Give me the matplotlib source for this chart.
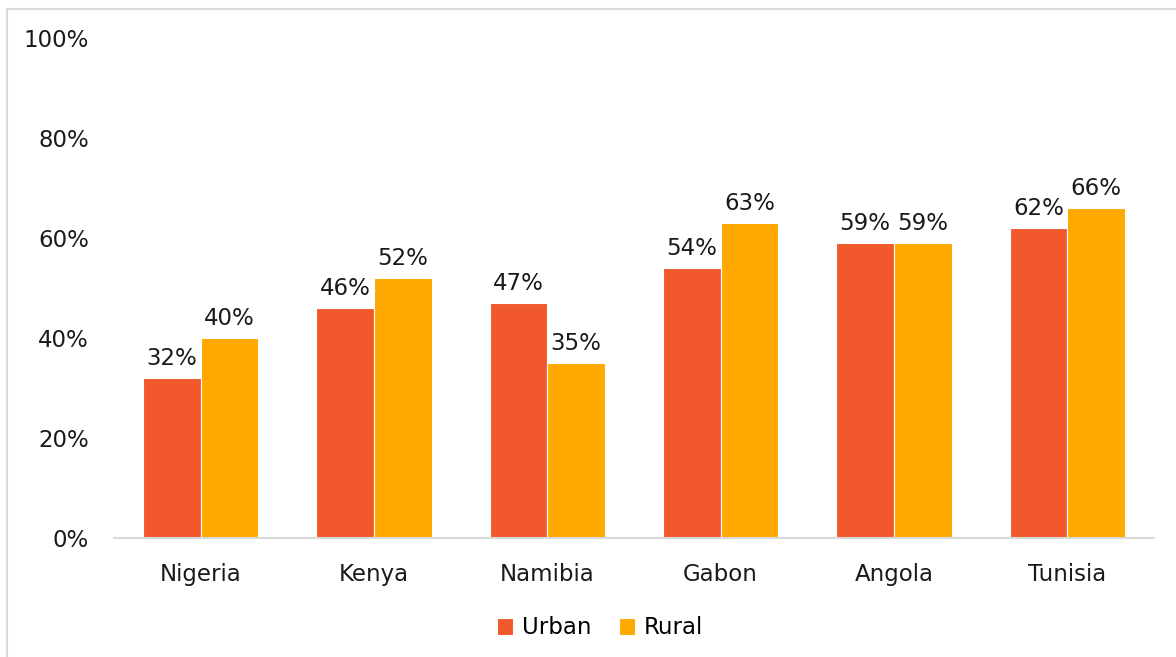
import matplotlib.pyplot as plt
import numpy as np
from matplotlib.patches import Rectangle

plt.rcParams['font.family'] = ['DejaVu Sans']

countries = ['Nigeria', 'Kenya', 'Namibia', 'Gabon', 'Angola', 'Tunisia']
urban = [32, 46, 47, 54, 59, 62]
rural = [40, 52, 35, 63, 59, 66]

urban_color = '#F1582B'
rural_color = '#FFA800'
text_color = '#1A1A1A'
fs = 16.5

fig = plt.figure(figsize=(11.76, 6.57), dpi=100)
ax = fig.add_axes([114 / 1176, 1 - 538 / 657, 1040 / 1176, 500 / 657])

# 바깥 테두리
fig.patches.append(Rectangle((7 / 1176, -0.1), 1.2, 1 - 9 / 657 + 0.1,
                             transform=fig.transFigure, fill=False,
                             edgecolor='#D9D9D9', linewidth=1.5))

x = np.arange(len(countries))
w = 1 / 3
b1 = ax.bar(x - w / 2, urban, w, color=urban_color, edgecolor='white',
            linewidth=0.8, label='Urban')
b2 = ax.bar(x + w / 2, rural, w, color=rural_color, edgecolor='white',
            linewidth=0.8, label='Rural')

for bars, vals in ((b1, urban), (b2, rural)):
    for bar, v in zip(bars, vals):
        ax.annotate(f'{v}%', (bar.get_x() + bar.get_width() / 2, v),
                    xytext=(0, 6), textcoords='offset points',
                    ha='center', va='bottom', fontsize=fs, color=text_color)

ax.set_xlim(-0.5, len(countries) - 0.5)
ax.set_ylim(0, 100)
ax.set_yticks(np.arange(0, 101, 20))
ax.set_yticklabels([f'{t}%' for t in range(0, 101, 20)])
ax.set_xticks(x)
ax.set_xticklabels(countries)
ax.tick_params(axis='both', length=0, labelsize=fs, colors=text_color)
ax.tick_params(axis='y', pad=18)
ax.tick_params(axis='x', pad=18)

for s in ['top', 'right', 'left']:
    ax.spines[s].set_visible(False)
ax.spines['bottom'].set_color('#D9D9D9')
ax.spines['bottom'].set_linewidth(1.5)

fig.legend(handles=[b1, b2], loc='center', bbox_to_anchor=(600 / 1176, 1 - 628 / 657),
           ncol=2, frameon=False, fontsize=fs, handlelength=0.7, handleheight=0.7,
           handletextpad=0.4, columnspacing=1.2)

fig.savefig('out.png', dpi=100)
